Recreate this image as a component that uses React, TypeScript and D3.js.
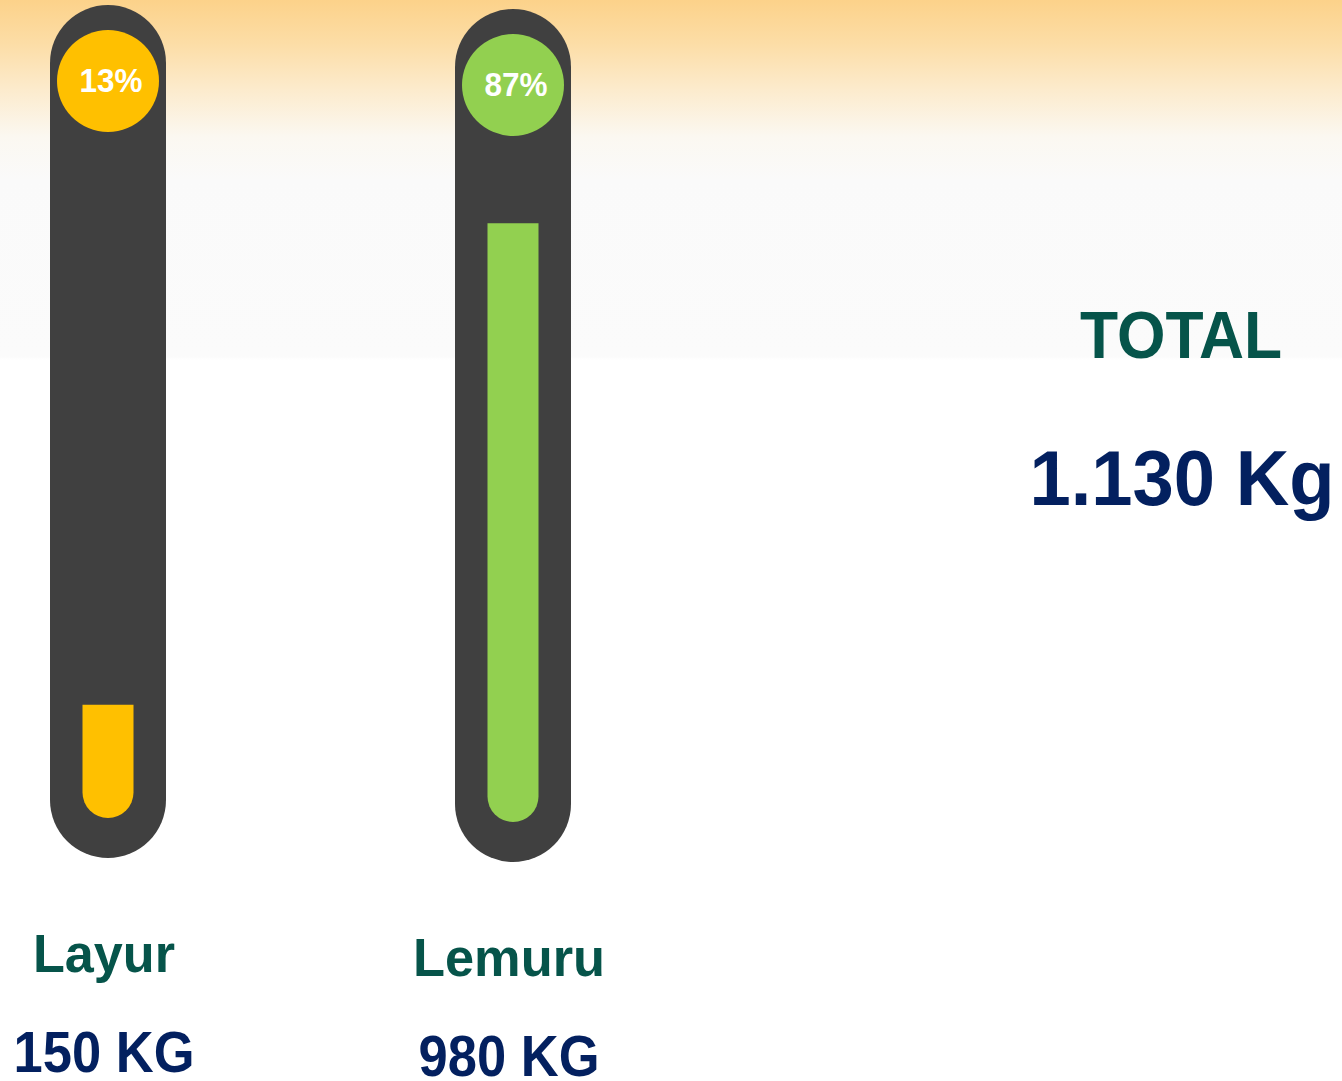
import * as d3 from 'd3';
import { useEffect, useRef } from 'react';

const categories = ['Layur', 'Lemuru'];
const weights = [150, 980];
const percents = [13, 87];
const fillColors = ['#FFC000', '#92D050'];
const totalTitle = 'TOTAL';

const App = () => {
  const svgRef = useRef(null);

  useEffect(() => {
    const svg = d3.select(svgRef.current);
    svg.selectAll('*').remove();
    const svgWidth = 1342;
    const svgHeight = 1081;
    const font = '"Liberation Sans", Arial, sans-serif';
    const teal = '#06544A';
    const navy = '#03205F';

    const idFormat = d3.formatLocale({ decimal: ',', thousands: '.', grouping: [3], currency: ['', ''] });
    const fmt = idFormat.format(',d');

    // background gradient
    const defs = svg.append('defs');
    const grad = defs.append('linearGradient')
      .attr('id', 'bg')
      .attr('x1', 0).attr('y1', 0).attr('x2', 0).attr('y2', 1);
    [
      [0, '#FCD28A'],
      [0.12, '#FCDDA6'],
      [0.25, '#FCEBCD'],
      [0.38, '#FBF8F1'],
      [0.5, '#FAFAFA'],
      [0.99, '#FBFBFB'],
      [1, '#FFFFFF'],
    ].forEach(([o, c]) => grad.append('stop').attr('offset', o).attr('stop-color', c));

    svg.append('rect').attr('width', svgWidth).attr('height', svgHeight).attr('fill', '#FFFFFF');
    svg.append('rect').attr('width', svgWidth).attr('height', 360).attr('fill', 'url(#bg)');

    const x = d3.scalePoint().domain(categories).range([108, 513]);
    const shift = [0, 4];

    const tubeW = 116;
    const tubeTop = 5;
    const tubeBottom = 858;
    const fillW = 51;
    const fillBottom = tubeBottom - 40;
    const capR = fillW / 2;

    const y = d3.scaleLinear().domain([0, 1000]).range([fillBottom - capR, fillBottom - capR - 585]);

    const g = svg.selectAll('.tube')
      .data(categories)
      .enter()
      .append('g')
      .attr('class', 'tube')
      .attr('transform', (d, i) => `translate(${x(d)}, ${shift[i]})`);

    g.append('rect')
      .attr('x', -tubeW / 2)
      .attr('y', tubeTop)
      .attr('width', tubeW)
      .attr('height', tubeBottom - tubeTop)
      .attr('rx', tubeW / 2)
      .attr('fill', '#404040');

    g.append('path')
      .attr('d', (d, i) => {
        const top = y(weights[i]);
        const p = d3.path();
        p.moveTo(-capR, top);
        p.lineTo(capR, top);
        p.lineTo(capR, fillBottom - capR);
        p.arc(0, fillBottom - capR, capR, 0, Math.PI, false);
        p.closePath();
        return p.toString();
      })
      .attr('fill', (d, i) => fillColors[i]);

    g.append('circle')
      .attr('cx', 0)
      .attr('cy', 81)
      .attr('r', 51)
      .attr('fill', (d, i) => fillColors[i]);

    g.append('text')
      .attr('x', 3)
      .attr('y', 92)
      .attr('text-anchor', 'middle')
      .attr('font-family', font)
      .attr('font-weight', 'bold')
      .attr('font-size', 33)
      .attr('textLength', 63)
      .attr('lengthAdjust', 'spacingAndGlyphs')
      .attr('fill', '#FFFFFF')
      .text((d, i) => `${percents[i]}%`);

    g.append('text')
      .attr('x', (d, i) => [-4, -4][i])
      .attr('y', 972)
      .attr('text-anchor', 'middle')
      .attr('font-family', font)
      .attr('font-weight', 'bold')
      .attr('font-size', 54)
      .attr('textLength', (d, i) => [142, 192][i])
      .attr('lengthAdjust', 'spacingAndGlyphs')
      .attr('fill', teal)
      .text(d => d);

    g.append('text')
      .attr('x', (d, i) => [-4, -4][i])
      .attr('y', 1072)
      .attr('text-anchor', 'middle')
      .attr('font-family', font)
      .attr('font-weight', 'bold')
      .attr('font-size', 57)
      .attr('textLength', 181)
      .attr('lengthAdjust', 'spacingAndGlyphs')
      .attr('fill', navy)
      .text((d, i) => `${fmt(weights[i])} KG`);

    svg.append('text')
      .attr('x', 1181)
      .attr('y', 358)
      .attr('text-anchor', 'middle')
      .attr('font-family', font)
      .attr('font-weight', 'bold')
      .attr('font-size', 67)
      .attr('textLength', 202)
      .attr('lengthAdjust', 'spacingAndGlyphs')
      .attr('fill', teal)
      .text(totalTitle);

    svg.append('text')
      .attr('x', 1182)
      .attr('y', 505)
      .attr('text-anchor', 'middle')
      .attr('font-family', font)
      .attr('font-weight', 'bold')
      .attr('font-size', 77)
      .attr('textLength', 305)
      .attr('lengthAdjust', 'spacingAndGlyphs')
      .attr('fill', navy)
      .text(`${fmt(d3.sum(weights))} Kg`);
  }, []);

  return (
    <svg
      ref={svgRef}
      width={1342}
      height={1081}
      style={{ position: 'absolute', left: 0, top: 0, display: 'block' }}
    ></svg>
  );
};

export default App;
